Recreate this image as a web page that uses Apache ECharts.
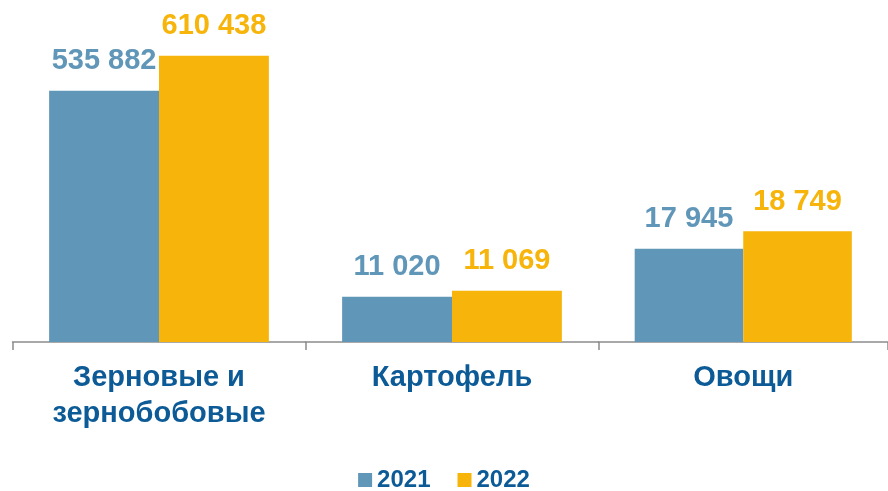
<!DOCTYPE html>
<html>
<head>
<meta charset="utf-8">
<script src="https://cdn.jsdelivr.net/npm/echarts@6/dist/echarts.min.js"></script>
<style>
  html, body { margin: 0; padding: 0; background: #fff; }
  #chart { width: 888px; height: 491px; }
</style>
</head>
<body>
<div id="chart"></div>
<script>
// categories and values
var categories = ['Зерновые и\nзернобобовые', 'Картофель', 'Овощи'];
var years = ['2021', '2022'];
var values2021 = [535882, 11020, 17945];
var values2022 = [610438, 11069, 18749];

// each group has its own (hidden) value scale in the original picture
var scaleMin = [0, 10650, 13630];
var scaleMax = [640000, 13100, 27500];

var blue = '#6096b8';
var orange = '#f7b40a';
var textBlue = '#0c5a96';

function fmt(v) {
  return String(v).replace(/\B(?=(\d{3})+(?!\d))/g, ' ');
}

var grids = [], xAxes = [], yAxes = [], series = [];
var colW = 293, left0 = 12.5;

categories.forEach(function (cat, i) {
  grids.push({ left: left0 + i * colW, width: colW, top: 42, height: 300 });
  xAxes.push({
    type: 'category', gridIndex: i, data: [cat],
    axisLine: { show: true, lineStyle: { color: '#8c8c8c', width: 1.5 } },
    axisTick: { show: true, alignWithLabel: false, length: 8, lineStyle: { color: '#8c8c8c', width: 1.5 } },
    axisLabel: {
      color: textBlue, fontSize: 29, fontWeight: 'bold',
      fontFamily: 'Liberation Sans, Arial, sans-serif',
      lineHeight: 36, margin: 18
    }
  });
  yAxes.push({
    type: 'value', gridIndex: i, min: scaleMin[i], max: scaleMax[i],
    show: false, splitLine: { show: false }
  });
  [values2021, values2022].forEach(function (vals, k) {
    var col = k === 0 ? blue : orange;
    series.push({
      name: years[k], type: 'bar', xAxisIndex: i, yAxisIndex: i,
      data: [vals[i]],
      barGap: 0, barCategoryGap: '25%',
      itemStyle: { color: col },
      label: {
        show: true, position: 'top', distance: 15,
        color: col, fontSize: 29, fontWeight: 'bold',
        fontFamily: 'Liberation Sans, Arial, sans-serif',
        formatter: function (p) { return fmt(p.value); }
      }
    });
  });
});

var myChart = echarts.init(document.getElementById('chart'));
myChart.setOption({
  animation: false,
  color: [blue, orange],
  legend: {
    data: years, bottom: -6, left: 'center',
    itemWidth: 14, itemHeight: 14, itemGap: 27,
    icon: 'rect',
    textStyle: { color: textBlue, fontSize: 24, fontWeight: 'bold', fontFamily: 'Liberation Sans, Arial, sans-serif' }
  },
  grid: grids,
  xAxis: xAxes,
  yAxis: yAxes,
  series: series
});
</script>
</body>
</html>
